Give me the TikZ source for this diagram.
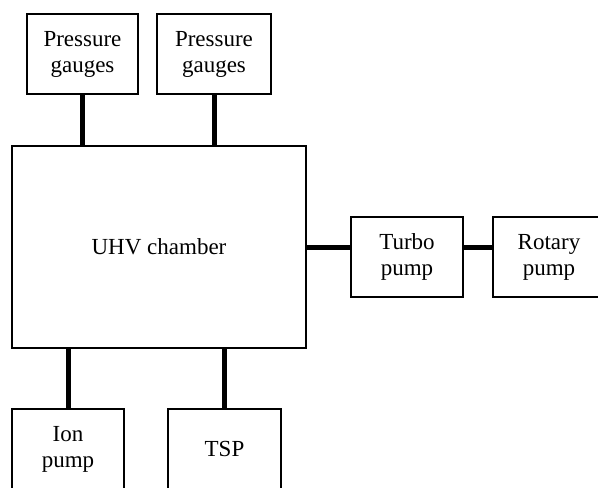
\documentclass[tikz,border=0pt]{standalone}
\usepackage{fontspec}
\setmainfont{Liberation Serif}
\begin{document}
\begin{tikzpicture}[x=1pt, y=-1pt, every node/.style={font=\fontsize{23}{26}\selectfont},
        unit/.style={draw, line width=2.5pt, inner sep=0pt, align=center, minimum height=80pt},
        pipe/.style={line width=5pt}]
        \useasboundingbox (0,0) rectangle (598,488);
        \clip (0,0) rectangle (598,488);

        \node[unit, minimum width=294pt, minimum height=202pt] (uhv) at (159,247) {UHV chamber};

        \node[unit, minimum width=111pt] (gaugeA) at (82.5,54) {Pressure\\gauges};
        \node[unit, minimum width=114pt] (gaugeB) at (214,54) {Pressure\\gauges};

        \node[unit, minimum width=112pt] (turbo) at (407,257) {Turbo\\pump};
        \node[unit, minimum width=112pt] (rotary) at (549,257) {Rotary\\pump};

        \node[unit, minimum width=112pt] (ion) at (68,449) {Ion\\pump};
        \node[unit, minimum width=113pt] (tsp) at (224.5,449) {TSP};

        \draw[pipe] (gaugeA) -- (gaugeA |- uhv.north);
        \draw[pipe] (gaugeB) -- (gaugeB |- uhv.north);
        \draw[pipe] (uhv.east) -- (uhv.east -| turbo.west);
        \draw[pipe] (uhv.east -| turbo.east) -- (uhv.east -| rotary.west);
        \draw[pipe] (uhv.south -| ion) -- (ion);
        \draw[pipe] (uhv.south -| tsp) -- (tsp);
    \end{tikzpicture}
\end{document}
